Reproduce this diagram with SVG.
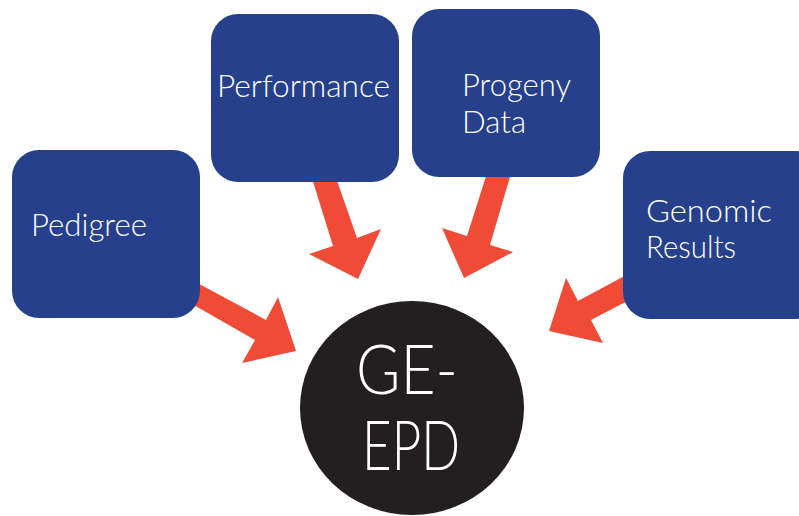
<svg xmlns="http://www.w3.org/2000/svg" width="799" height="516" viewBox="0 0 799 516">
<style>
.box{fill:#27408B;}
.lbl{font-family:Lato,"Noto Sans","Liberation Sans",sans-serif;font-weight:300;font-size:32px;fill:#ffffff;}
.arr{fill:#F04B37;}
.ctr{font-family:Lato,"Noto Sans","Liberation Sans",sans-serif;font-weight:300;font-size:68px;fill:#ffffff;}
</style>
<rect width="799" height="516" fill="#ffffff"/>
<g id="connectors">
<polygon class="arr" points="190,279 266,320 278,297 296,351 242,363 255,340 185,300"/>
<polygon class="arr" points="311,175 335,175 357,238 381,229 358,279 309,254 333,246"/>
<polygon class="arr" points="488,170 512,170 490,245 513,252 464,278 442,228 467,236"/>
<polygon class="arr" points="630,273 578,301 566,278 549,331 603,343 591,320 635,297"/>
</g>
<g id="pedigree">
<rect class="box" x="12" y="150" width="188" height="168" rx="27"/>
<text class="lbl" x="31" y="236" textLength="116" lengthAdjust="spacingAndGlyphs">Pedigree</text>
</g>
<g id="performance">
<rect class="box" x="211" y="14" width="188" height="168" rx="27"/>
<text class="lbl" x="217" y="97" textLength="173" lengthAdjust="spacingAndGlyphs">Performance</text>
</g>
<g id="progeny">
<rect class="box" x="412" y="9" width="188" height="168" rx="27"/>
<text class="lbl" x="462" y="96" textLength="109" lengthAdjust="spacingAndGlyphs">Progeny</text>
<text class="lbl" x="462" y="133" textLength="64" lengthAdjust="spacingAndGlyphs">Data</text>
</g>
<g id="genomic">
<rect class="box" x="623" y="151" width="200" height="168" rx="27"/>
<text class="lbl" x="646" y="222" textLength="126" lengthAdjust="spacingAndGlyphs">Genomic</text>
<text class="lbl" x="646" y="258" textLength="90" lengthAdjust="spacingAndGlyphs">Results</text>
</g>
<g id="ge-epd">
<ellipse cx="412" cy="408" rx="112" ry="107" fill="#231F20"/>
<text class="ctr" x="356" y="394" textLength="102" lengthAdjust="spacingAndGlyphs">GE-</text>
<text class="ctr" x="362" y="470" textLength="98" lengthAdjust="spacingAndGlyphs">EPD</text>
</g>
</svg>
